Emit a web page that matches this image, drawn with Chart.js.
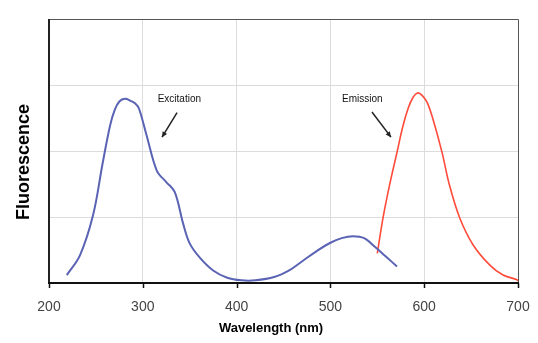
<!DOCTYPE html>
<html>
<head>
<meta charset="utf-8">
<script src="https://cdn.jsdelivr.net/npm/chart.js@4/dist/chart.umd.min.js"></script>
<style>
html,body{margin:0;padding:0;background:#fff;}
#wrap{width:538px;height:343px;position:relative;}
</style>
</head>
<body>
<div id="wrap"><canvas id="c" width="538" height="343"></canvas></div>
<script>
// Data
const excitationWl  = [219, 233, 247, 257, 265, 270, 275, 281, 287, 292, 296, 304, 315, 325, 334, 343, 350, 361, 375, 390, 405, 420, 440, 457, 470, 485, 500, 512, 524, 536, 548, 560, 571];
const excitationVal = [0.12,0.42,1.03,1.80,2.38,2.62,2.75,2.79,2.76,2.72,2.64,2.24,1.70,1.53,1.38,0.90,0.60,0.38,0.19,0.08,0.04,0.04,0.09,0.20,0.33,0.48,0.61,0.68,0.71,0.68,0.54,0.39,0.25];
const emissionWl    = [550, 556, 563, 571, 577, 583, 588, 593, 598, 603, 609, 619, 627, 638, 652, 670, 684, 699, 700];
const emissionVal   = [0.45,0.98,1.48,1.98,2.36,2.65,2.81,2.88,2.84,2.74,2.50,1.98,1.48,0.98,0.58,0.27,0.12,0.05,0.03];
const xTicks = [200, 300, 400, 500, 600, 700];
const seriesNames = ['Excitation', 'Emission'];
const xTitle = 'Wavelength (nm)';
const yTitle = 'Fluorescence';
// annotation anchors in data units: [textX, textY, arrowFromX, arrowFromY, arrowToX, arrowToY]
const labelAnchors = [
  [339, 2.79, 336.5, 2.58, 320.5, 2.21],
  [534, 2.79, 544.3, 2.59, 564.6, 2.21]
];

const toPts = (xs, ys) => xs.map((x, i) => ({x: x, y: ys[i]}));

const framePlugin = {
  id: 'frame',
  afterDraw(chart) {
    const {ctx, chartArea: a, scales} = chart;
    ctx.save();
    ctx.strokeStyle = '#555';
    ctx.lineWidth = 1;
    ctx.beginPath();
    ctx.moveTo(a.left, a.top + 0.5); ctx.lineTo(a.right + 0.5, a.top + 0.5);
    ctx.lineTo(a.right + 0.5, a.bottom);
    ctx.stroke();
    ctx.strokeStyle = '#222';
    ctx.lineWidth = 2;
    ctx.beginPath();
    ctx.moveTo(a.left, a.top); ctx.lineTo(a.left, a.bottom);
    ctx.stroke();
    ctx.strokeStyle = '#111';
    ctx.lineWidth = 2;
    ctx.beginPath();
    ctx.moveTo(a.left - 1, a.bottom); ctx.lineTo(a.right + 1, a.bottom);
    ctx.stroke();
    ctx.lineWidth = 1.5;
    xTicks.forEach(v => {
      const px = Math.round(scales.x.getPixelForValue(v)) + 0.5;
      ctx.beginPath(); ctx.moveTo(px, a.bottom); ctx.lineTo(px, a.bottom + 5); ctx.stroke();
    });
    ctx.font = '10px "Liberation Sans", Arial, sans-serif';
    ctx.textAlign = 'center';
    ctx.textBaseline = 'middle';
    labelAnchors.forEach((an, i) => {
      ctx.fillStyle = '#111';
      const tx = scales.x.getPixelForValue(an[0]);
      const ty = scales.y.getPixelForValue(an[1]);
      ctx.fillText(seriesNames[i], tx, ty);
      const x1 = scales.x.getPixelForValue(an[2]), y1 = scales.y.getPixelForValue(an[3]);
      const x2 = scales.x.getPixelForValue(an[4]), y2 = scales.y.getPixelForValue(an[5]);
      ctx.strokeStyle = '#222';
      ctx.lineWidth = 1.5;
      ctx.beginPath(); ctx.moveTo(x1, y1); ctx.lineTo(x2, y2); ctx.stroke();
      const ang = Math.atan2(y2 - y1, x2 - x1);
      const hl = 6, hw = 0.45;
      ctx.beginPath();
      ctx.moveTo(x2, y2);
      ctx.lineTo(x2 - hl * Math.cos(ang - hw), y2 - hl * Math.sin(ang - hw));
      ctx.lineTo(x2 - hl * Math.cos(ang + hw), y2 - hl * Math.sin(ang + hw));
      ctx.closePath();
      ctx.fillStyle = '#222';
      ctx.fill();
    });
    ctx.fillStyle = '#000';
    ctx.font = 'bold 13px "Liberation Sans", Arial, sans-serif';
    ctx.textAlign = 'center';
    ctx.fillText(xTitle, 271, 328);
    ctx.save();
    ctx.translate(24, 162);
    ctx.rotate(-Math.PI / 2);
    ctx.font = 'bold 18px "Liberation Sans", Arial, sans-serif';
    ctx.fillText(yTitle, 0, 0);
    ctx.restore();
    ctx.restore();
  }
};

new Chart(document.getElementById('c'), {
  type: 'scatter',
  data: {
    datasets: [
      {label: seriesNames[0], data: toPts(excitationWl, excitationVal), showLine: true,
       borderColor: '#5a63b4', borderWidth: 2, pointRadius: 0, tension: 0.35},
      {label: seriesNames[1], data: toPts(emissionWl, emissionVal), showLine: true,
       borderColor: '#ff4b3a', borderWidth: 1.6, pointRadius: 0, tension: 0.35}
    ]
  },
  options: {
    responsive: false,
    animation: false,
    layout: {padding: {left: 49, right: 20, top: 19, bottom: 0}},
    plugins: {legend: {display: false}, tooltip: {enabled: false}},
    scales: {
      x: {
        type: 'linear', min: 200, max: 700,
        afterBuildTicks(s) { s.ticks = xTicks.map(v => ({value: v})); },
        afterFit(s) { s.height = 60; s.paddingLeft = 0; s.paddingRight = 0; },
        border: {display: false},
        grid: {color: ctx => (ctx.tick && (ctx.tick.value === 200 || ctx.tick.value === 700)) ? 'rgba(0,0,0,0)' : '#dcdcdc', drawTicks: false, lineWidth: 1},
        ticks: {padding: 16, color: '#444', font: {family: '"Liberation Sans", Arial, sans-serif', size: 14}, maxRotation: 0}
      },
      y: {
        type: 'linear', min: 0, max: 4,
        afterFit(s) { s.width = 0; s.paddingTop = 0; s.paddingBottom = 0; },
        border: {display: false},
        grid: {color: ctx => (ctx.tick && (ctx.tick.value === 0 || ctx.tick.value === 4)) ? 'rgba(0,0,0,0)' : '#dcdcdc', drawTicks: false},
        ticks: {display: false, stepSize: 1}
      }
    }
  },
  plugins: [framePlugin]
});
</script>
</body>
</html>
